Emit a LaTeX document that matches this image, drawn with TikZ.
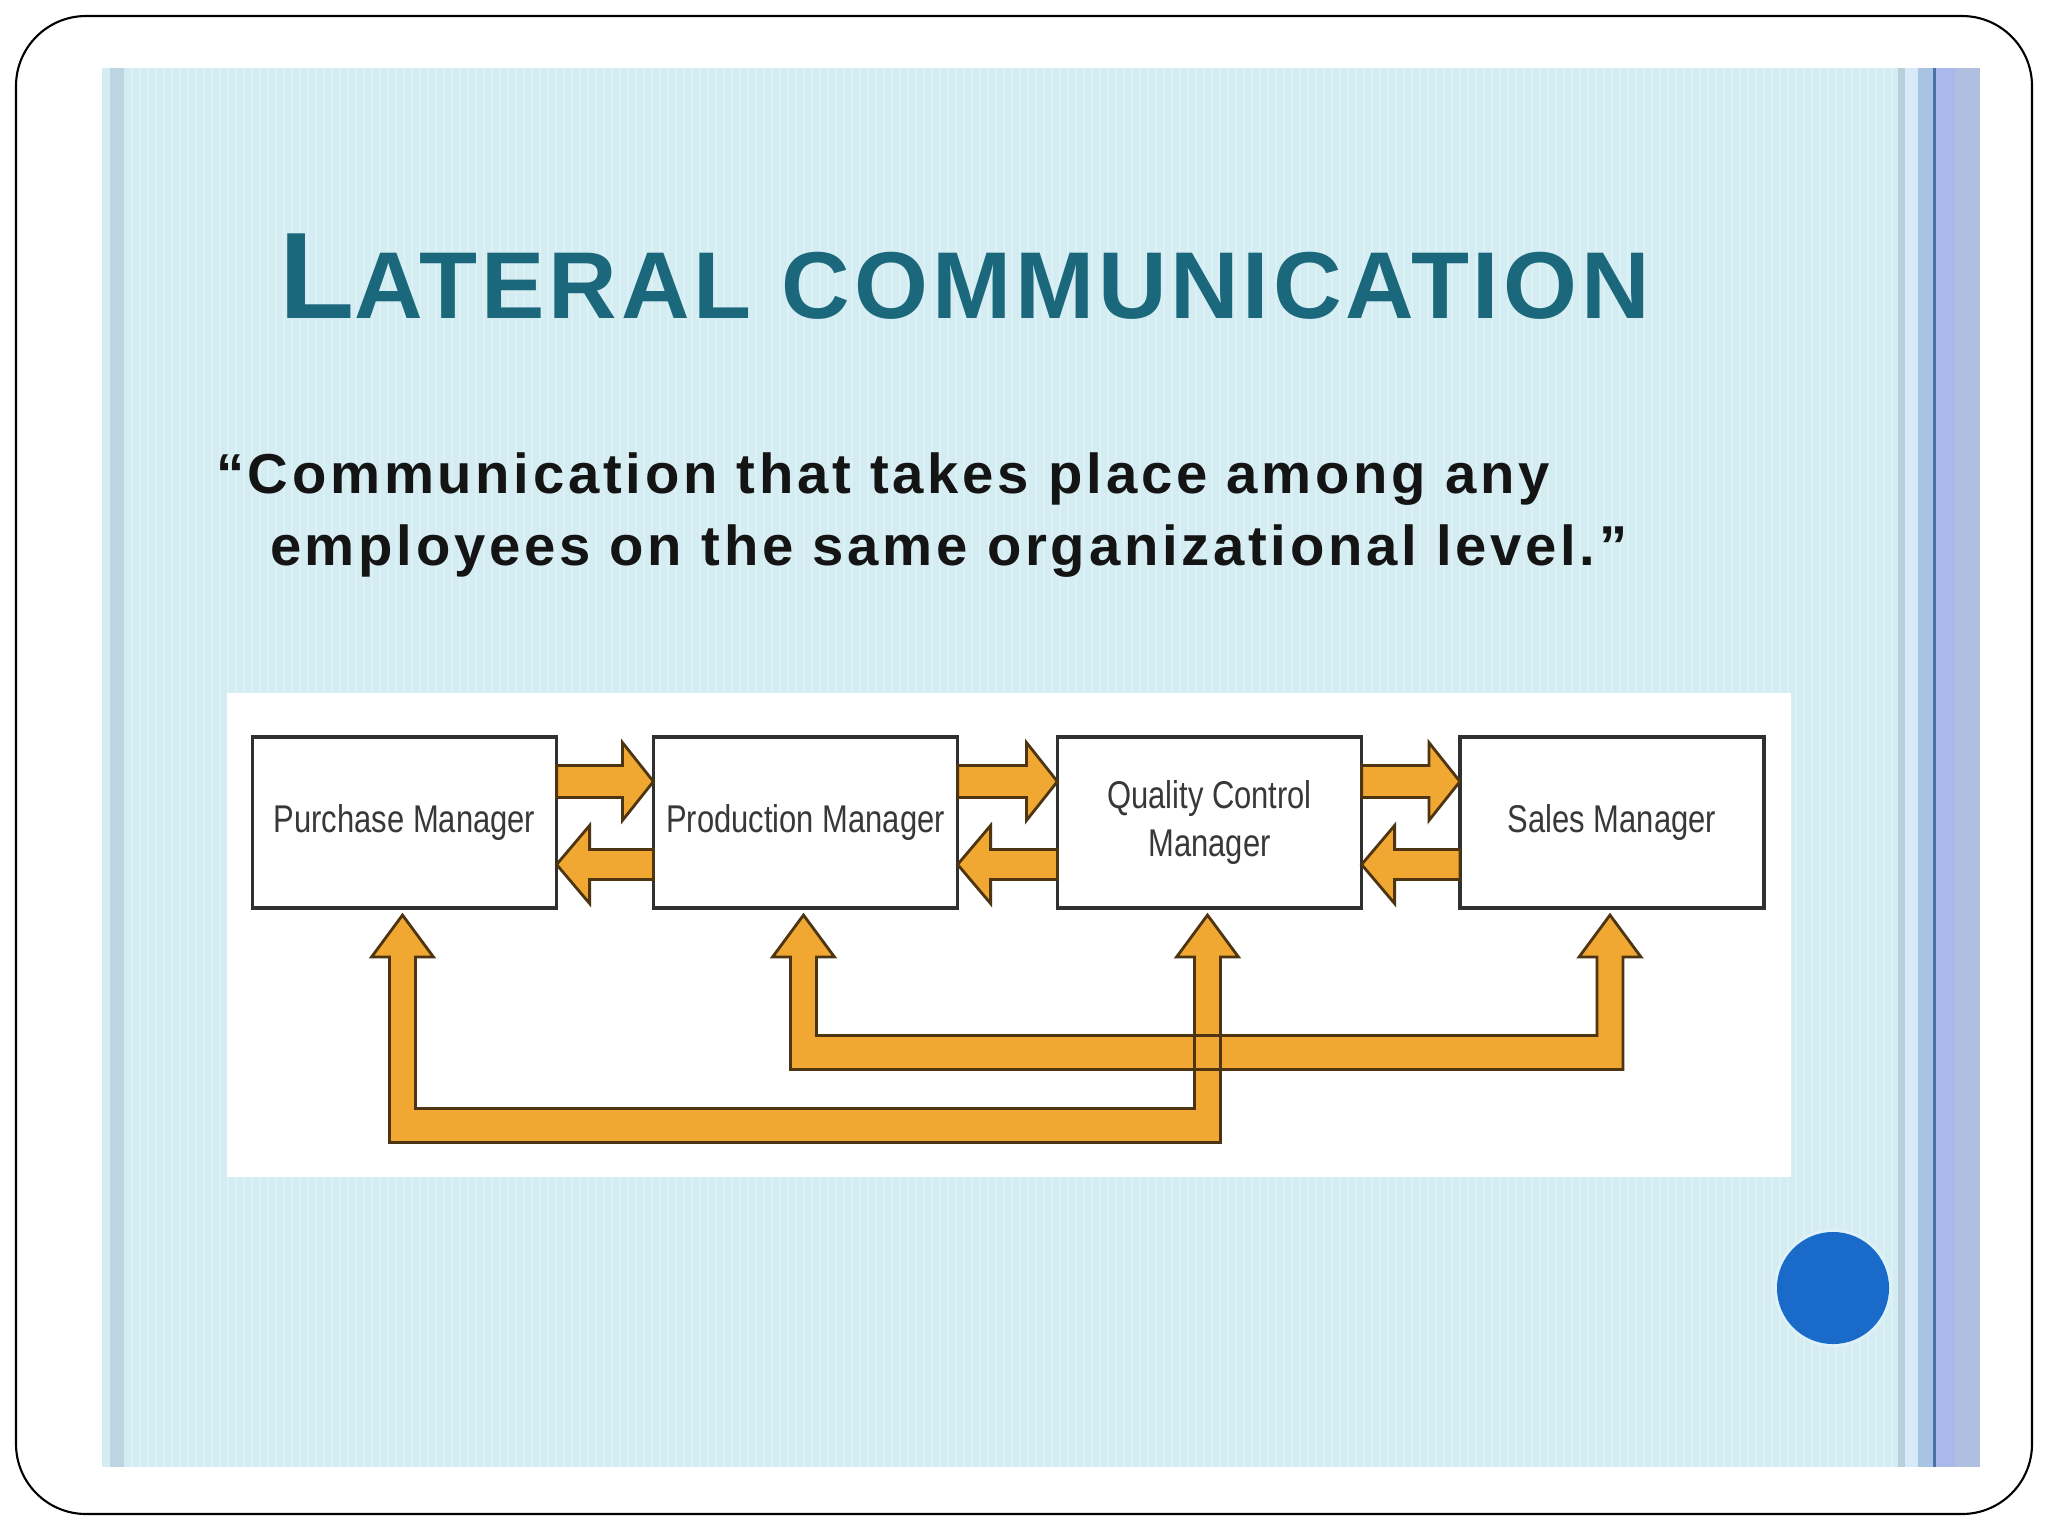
\documentclass[tikz,border=0pt]{standalone}
\usepackage{fontspec}
\usetikzlibrary{calc}
\newfontfamily\titlefont{Liberation Sans}[LetterSpace=4.1]
\newfontfamily\quotefont{Liberation Sans}[LetterSpace=6.6]
\newfontfamily\boxfont{Liberation Sans}[FakeStretch=0.8]
\definecolor{slidebg}{HTML}{D4EDF2}
\definecolor{leftband}{HTML}{BDD5E3}
\definecolor{rgray}{HTML}{BACFDC}
\definecolor{rlight}{HTML}{D8E9F7}
\definecolor{rblue}{HTML}{A9C3E5}
\definecolor{rdark}{HTML}{4A72A6}
\definecolor{rlav}{HTML}{AAB9EC}
\definecolor{rlav2}{HTML}{B0BFDF}
\definecolor{titleteal}{HTML}{1B687C}
\definecolor{quoteink}{HTML}{141414}
\definecolor{boxline}{HTML}{303030}
\definecolor{boxtext}{HTML}{383838}
\definecolor{arrowfill}{HTML}{F0A832}
\definecolor{arrowline}{HTML}{4E3512}
\definecolor{dotblue}{HTML}{1A6BC9}
\definecolor{halo}{HTML}{DCF2F8}

\newcommand\rightfat[3]{%
  \draw[fatarrow] ($(#1.east)+(0,#3-16)$) -- ($(#2.west)+(-31,#3-16)$)
    -- ($(#2.west)+(-31,#3-39)$) -- ($(#2.west)+(0,#3)$)
    -- ($(#2.west)+(-31,#3+39)$) -- ($(#2.west)+(-31,#3+16)$)
    -- ($(#1.east)+(0,#3+16)$) -- cycle;}
\newcommand\leftfat[3]{%
  \draw[fatarrow] ($(#2.west)+(0,#3-15)$) -- ($(#1.east)+(33,#3-15)$)
    -- ($(#1.east)+(33,#3-39)$) -- ($(#1.east)+(0,#3)$)
    -- ($(#1.east)+(33,#3+39)$) -- ($(#1.east)+(33,#3+15)$)
    -- ($(#2.west)+(0,#3+15)$) -- cycle;}
% U-shaped double arrow between bottoms of two boxes
\newcommand\ufat[4]{%
  \coordinate (ta) at ($(#2.south)+(-2,7)$);
  \coordinate (tb) at ($(#3.south)+(-2,7)$);
  \path[#1] (ta) -- ($(ta)+(31,42)$) -- ($(ta)+(13,42)$)
    -- ($(ta)+(13,#4-17)$) -- ($(tb)+(-13,#4-17)$)
    -- ($(tb)+(-13,42)$) -- ($(tb)+(-31,42)$) -- (tb)
    -- ($(tb)+(31,42)$) -- ($(tb)+(13,42)$)
    -- ($(tb)+(13,#4+17)$) -- ($(ta)+(-13,#4+17)$)
    -- ($(ta)+(-13,42)$) -- ($(ta)+(-31,42)$) -- cycle;}

\begin{document}
\begin{tikzpicture}[x=0.01cm,y=-0.01cm,
  box/.style={draw=boxline, line width=1pt, fill=white,
    minimum width=3.04cm, minimum height=1.71cm, inner sep=0pt, outer sep=0pt,
    font=\boxfont\fontsize{11}{13.7}\selectfont, text=boxtext, align=center},
  fatarrow/.style={fill=arrowfill, draw=arrowline, line width=0.8pt, line join=miter},
  arrowedge/.style={draw=arrowline, line width=0.8pt, line join=miter},
  pinstripe/.style={draw=white, opacity=0.22, line width=0.35pt},
  txt/.style={inner sep=0pt, outer sep=0pt, anchor=base west}]
\useasboundingbox (0,0) rectangle (2048,1536);
\fill[white] (0,0) rectangle (2048,1536);
\draw[black, line width=0.6pt, rounded corners=0.7cm] (16,16) rectangle (2032,1514);

% slide background and side bands
\fill[slidebg] (102,68) rectangle (1980,1467);
\foreach \i in {0,...,220} {\draw[pinstripe] (132+8*\i,68) -- (132+8*\i,1467);}
\fill[leftband] (110,68) rectangle (124,1467);
\fill[rgray] (1898,68) rectangle (1905,1467);
\fill[rlight] (1905,68) rectangle (1918,1467);
\fill[rblue] (1918,68) rectangle (1933,1467);
\fill[rdark] (1933,68) rectangle (1935.5,1467);
\fill[rlav] (1935.5,68) rectangle (1955,1467);
\fill[rlav2] (1955,68) rectangle (1980,1467);

% title and definition
\node[txt, text=titleteal] (title) at (279,318)
  {\titlefont\bfseries\fontsize{35}{40}\selectfont L\fontsize{27}{30}\selectfont ATERAL COMMUNICATION};
\node[txt, text=quoteink] (q1) at (216,493)
  {\quotefont\bfseries\fontsize{16}{20}\selectfont “Communication that takes place among any};
\node[txt, text=quoteink] (q2) at (270,565)
  {\quotefont\bfseries\fontsize{16}{20}\selectfont employees on the same organizational level.”};

% diagram panel
\fill[white] (227,693) rectangle (1791,1177);

\node[box] (pur) at (404.5,822.5) {Purchase Manager};
\node[box] (pro) at (805.5,822.5) {Production Manager};
\node[box] (qc)  at (1209.5,822.5) {Quality Control\\Manager};
\node[box] (sal) at (1612,822.5) {Sales Manager};

\rightfat{pur}{pro}{-41}
\leftfat{pur}{pro}{42}
\rightfat{pro}{qc}{-41}
\leftfat{pro}{qc}{42}
\rightfat{qc}{sal}{-41}
\leftfat{qc}{sal}{42}

\ufat{fill=arrowfill}{pro}{sal}{137.5}
\ufat{fill=arrowfill}{pur}{qc}{210.5}
\ufat{arrowedge}{pro}{sal}{137.5}
\ufat{arrowedge}{pur}{qc}{210.5}

% slide marker dot
\node[circle, fill=halo, minimum size=1.18cm, inner sep=0pt] (halo) at (1833,1288) {};
\node[circle, fill=dotblue, minimum size=1.12cm, inner sep=0pt] (dot) at (1833,1288) {};
\end{tikzpicture}
\end{document}
